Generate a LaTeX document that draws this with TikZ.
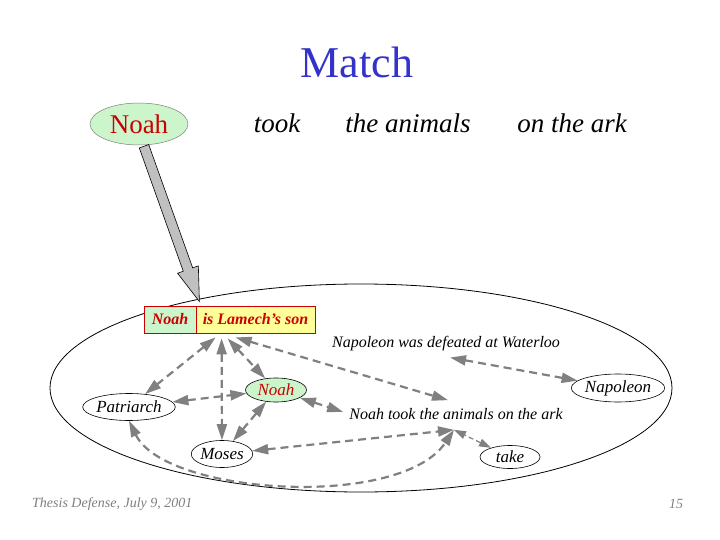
\documentclass[tikz,border=0pt]{standalone}
\usepackage{fontspec}
\setmainfont{Liberation Serif}
\usetikzlibrary{arrows.meta,calc,shapes.geometric}
\definecolor{titleblue}{HTML}{3333CC}
\definecolor{nred}{HTML}{CC0000}
\definecolor{lgreen}{HTML}{CCF5CC}
\definecolor{lyellow}{HTML}{FFFF99}
\definecolor{lgray}{HTML}{808080}
\definecolor{agray}{HTML}{C0C0C0}
\begin{document}
\begin{tikzpicture}[x=1pt,y=-1pt,
 oval/.style={ellipse, draw=black, line width=0.6pt, inner sep=0pt, font=\fontsize{17}{17}\selectfont\itshape},
 link/.style={draw=lgray, line width=2.2pt, dash pattern=on 8pt off 5pt, {Triangle[length=16pt,width=10pt]}-{Triangle[length=16pt,width=10pt]}},
 thinlink/.style={draw=lgray, line width=1.2pt, dash pattern=on 5pt off 3pt, {Triangle[length=12pt,width=8pt]}-{Triangle[length=12pt,width=8pt]}},
 cell/.style={draw=nred, line width=0.8pt, minimum height=27pt, inner sep=0pt, font=\fontsize{16}{16}\selectfont\bfseries\itshape, text=nred},
 bigtext/.style={font=\fontsize{27}{27}\selectfont\itshape},
 lbl/.style={font=\fontsize{16}{16}\selectfont\itshape, inner sep=0pt},
 foot/.style={font=\fontsize{14}{14}\selectfont\itshape, text=lgray, inner sep=0pt},
 bigarrow/.style={fill=agray, draw=black, line width=0.6pt}
]
\useasboundingbox (0,0) rectangle (720,540);
\fill[white] (0,0) rectangle (720,540);

% title and sentence
\node[font=\fontsize{44}{44}\selectfont, text=titleblue] (title) at (357,62) {Match};
\node[ellipse, draw=lgray, line width=0.5pt, fill=lgreen, minimum width=98pt, minimum height=42pt, inner sep=0pt, text=nred, font=\fontsize{27}{27}\selectfont] (noahtop) at (139,124) {Noah};
\node[bigtext] (took) at (277,123) {took};
\node[bigtext] (animals) at (408,123) {the animals};
\node[bigtext] (onark) at (572,123) {on the ark};

% context ellipse
\node[ellipse, draw=black, line width=0.8pt, minimum width=622pt, minimum height=208pt, inner sep=0pt] (ctx) at (361,388) {};

% fact box
\node[cell, fill=lgreen, minimum width=52pt] (boxL) at (170,319.5) {Noah};
\node[cell, fill=lyellow, minimum width=119pt] (boxR) at (255.5,319.5) {is Lamech’s son};

% big arrow
\coordinate (ns) at ($(noahtop.south)+(5,1)$);
\coordinate (tip) at ($(boxL.north east)+(3,-4)$);
\coordinate (hb) at ($(tip)!34pt!(ns)$);
\draw[bigarrow] ($(ns)!5pt!90:(tip)$) -- ($(hb)!5pt!-90:(ns)$) -- ($(hb)!11pt!-90:(ns)$) -- (tip)
  -- ($(hb)!11pt!90:(ns)$) -- ($(hb)!5pt!90:(ns)$) -- ($(ns)!5pt!-90:(tip)$) -- cycle;

% nodes
\node[lbl] (napdef) at (446,344) {Napoleon was defeated at Waterloo};
\node[oval, minimum width=73pt, minimum height=28pt] (napoleon) at (618,388) {Napoleon};
\node[oval, fill=lgreen, text=nred, minimum width=61pt, minimum height=24pt] (noahs) at (276,390) {Noah};
\node[oval, minimum width=78pt, minimum height=27pt] (patriarch) at (129,407) {Patriarch};
\node[lbl] (sent) at (456,414) {Noah took the animals on the ark};
\node[oval, minimum width=60pt, minimum height=27pt] (moses) at (222,454) {Moses};
\node[oval, minimum width=60pt, minimum height=23pt] (take) at (510,457) {take};

% junction points
\coordinate (bP) at ($(boxR.south west)+(20,4)$);
\coordinate (bM) at ($(boxR.south west)+(26,5)$);
\coordinate (bN) at ($(boxR.south west)+(32,5)$);
\coordinate (bS) at ($(boxR.south west)+(40,4)$);
\coordinate (napJ) at ($(napdef.south)+(4,6)$);
\coordinate (sentT) at ($(sent.north)+(-8,-8)$);
\coordinate (sentL) at ($(sent.west)+(-6,-2)$);
\coordinate (sentB) at ($(sent.south)+(-2,10)$);

% connectors
\draw[link] (bP) -- (patriarch);
\draw[link] (bM) -- (moses);
\draw[link] (bN) -- (noahs);
\draw[link] (bS) -- (sentT);
\draw[link] (napJ) -- (napoleon);
\draw[link] (patriarch) -- (noahs);
\draw[link] (noahs) -- (sentL);
\draw[link] (noahs) -- (moses);
\draw[link] (moses) -- (sentB);
\draw[thinlink] (take) -- (sentB);
\draw[link] (patriarch.south) .. controls (165,495) and (400,510) .. (sentB);

% footer
\node[foot, anchor=west] (footer) at (32,504) {Thesis Defense, July 9, 2001};
\node[foot] (pagenum) at (676,504) {15};
\end{tikzpicture}
\end{document}
